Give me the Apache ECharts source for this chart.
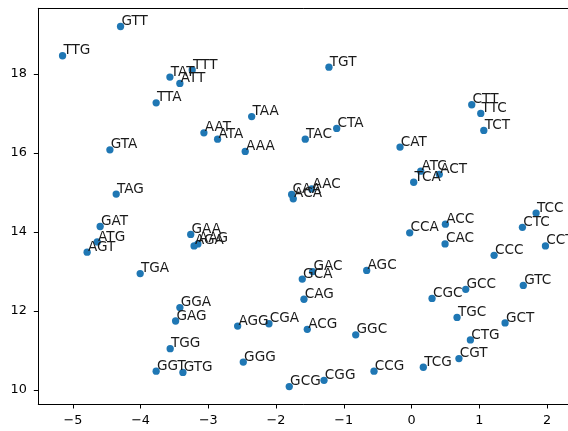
<!DOCTYPE html>
<html>
<head>
<meta charset="utf-8">
<script src="https://cdn.jsdelivr.net/npm/echarts@6/dist/echarts.min.js"></script>
<style>
html,body{margin:0;padding:0;background:#fff;}
#chart{width:568px;height:431px;}
</style>
</head>
<body>
<div id="chart"></div>
<script>
const codons = ["GTT","TTG","TAT","ATT","TTT","TTA","GTA","TGT","TAA","AAT","ATA","AAA","TAC","CTA","CTT","TTC","TCT","CAT","ATC","ACT","TCA","TCC","CTC","ACC","CCA","CAC","CCT","CCC","GTC","AGC","GCC","CGC","TGC","GCT","CTG","CGT","TCG","CCG","CAG","AGG","CGA","ACG","GGC","GGG","GCG","CGG","GGA","GAG","TGG","GGT","GTG","TAG","GAT","ATG","AGT","TGA","GAA","AAG","AGA","CAA","ACA","AAC","GAC","GCA"];
const xValues = [-4.296,-5.152,-3.567,-3.42,-3.238,-3.77,-4.453,-1.219,-2.36,-3.065,-2.863,-2.455,-1.569,-1.105,0.889,1.022,1.067,-0.17,0.136,0.41,0.032,1.839,1.637,0.50,-0.027,0.495,1.977,1.219,1.65,-0.662,0.80,0.303,0.672,1.381,0.869,0.70,0.174,-0.554,-1.588,-2.567,-2.105,-1.539,-0.824,-2.484,-1.805,-1.292,-3.42,-3.483,-3.563,-3.77,-3.375,-4.36,-4.597,-4.64,-4.789,-4.006,-3.26,-3.154,-3.21,-1.77,-1.746,-1.474,-1.46,-1.613];
const yValues = [19.20,18.46,17.92,17.76,18.10,17.27,16.08,18.17,16.92,16.51,16.35,16.04,16.35,16.62,17.22,17.00,16.57,16.15,15.54,15.46,15.26,14.48,14.12,14.20,13.98,13.70,13.65,13.41,12.65,13.03,12.55,12.32,11.84,11.70,11.27,10.80,10.58,10.48,12.30,11.62,11.68,11.54,11.40,10.71,10.09,10.25,12.09,11.75,11.05,10.48,10.45,14.96,14.14,13.75,13.49,12.95,13.94,13.70,13.65,14.95,14.84,15.09,13.00,12.81];
const xTicks = [-5,-4,-3,-2,-1,0,1,2];
const yTicks = [10,12,14,16,18];

const FONT = 'DejaVu Sans';
const data = codons.map((c, i) => ({ name: c, value: [xValues[i], yValues[i]] }));
const fmt = v => String(v).replace('-', '\u2212');

const chart = echarts.init(document.getElementById('chart'), null, { renderer: 'canvas' });
chart.setOption({
  animation: false,
  backgroundColor: '#fff',
  grid: { left: 38.3, top: 8.3, right: 0, bottom: 27, containLabel: false },
  xAxis: [{
    type: 'value', position: 'bottom', min: -5.51, max: 2.31,
    axisLine: { show: true, onZero: false, lineStyle: { color: '#000', width: 1 } },
    axisTick: { show: true, length: 4.5, customValues: xTicks, lineStyle: { color: '#000' } },
    axisLabel: { customValues: xTicks, formatter: fmt, color: '#000', fontFamily: FONT, fontSize: 12.8, margin: 10.5 },
    splitLine: { show: false }
  }, {
    type: 'value', position: 'top', min: -5.51, max: 2.31,
    axisLine: { show: true, onZero: false, lineStyle: { color: '#000', width: 1 } },
    axisTick: { show: false }, axisLabel: { show: false }, splitLine: { show: false }
  }],
  yAxis: {
    type: 'value', min: 9.65, max: 19.66,
    axisLine: { show: true, onZero: false, lineStyle: { color: '#000', width: 1 } },
    axisTick: { show: true, length: 4.5, customValues: yTicks, lineStyle: { color: '#000' } },
    axisLabel: { customValues: yTicks, formatter: fmt, color: '#000', fontFamily: FONT, fontSize: 12.8, margin: 11.5 },
    splitLine: { show: false }
  },
  series: [{
    type: 'scatter',
    xAxisIndex: 0,
    symbolSize: 7.3,
    itemStyle: { color: '#1f77b4', opacity: 1 },
    data: data,
    label: {
      show: true, formatter: '{b}', position: [4.5, 5.5], align: 'left', verticalAlign: 'bottom',
      color: '#1a1a1a', fontFamily: FONT, fontSize: 13.6, lineHeight: 13.6
    },
    emphasis: { disabled: true }
  }]
});
</script>
</body>
</html>
